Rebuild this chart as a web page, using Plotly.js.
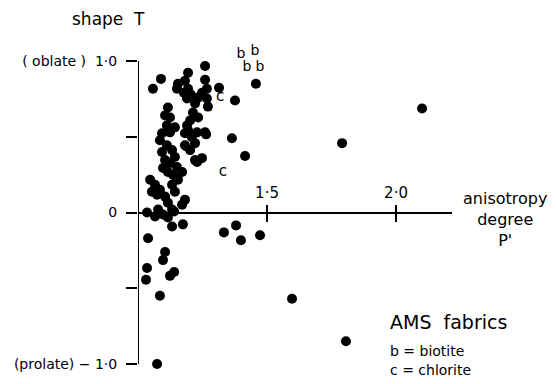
<!DOCTYPE html>
<html><head><meta charset="utf-8">
<script src="https://cdn.plot.ly/plotly-3.0.1.min.js"></script>
<style>html,body{margin:0;padding:0;background:#fff;}#chart{width:556px;height:384px;}</style>
</head><body><div id="chart"></div>
<script>
// AMS fabrics: anisotropy degree P' vs shape T
const sampleP = [1.260,1.194,1.089,1.058,1.155,1.182,1.151,1.194,1.178,1.205,
  1.190,1.260,1.267,1.248,1.233,1.267,1.271,1.314,1.376,1.221,
  1.213,1.202,1.190,1.233,1.116,1.105,1.124,1.112,1.143,1.194,
  1.229,1.260,1.093,1.124,1.182,1.209,1.221,1.264,1.364,1.093,
  1.112,1.132,1.105,1.124,1.143,1.116,1.136,1.151,1.171,1.229,
  1.248,1.221,1.415,1.047,1.066,1.085,1.054,1.074,1.105,1.143,
  1.116,1.182,1.171,1.035,1.078,1.132,1.066,1.116,1.097,1.140,
  1.132,1.174,1.039,1.105,1.097,1.035,1.031,1.124,1.140,1.085,
  1.074,1.333,1.380,1.399,1.473,1.597,1.791,2.101,1.457,1.806,
  1.085,1.097,1.155,1.132,1.202,1.182];
const sampleT = [0.967,0.922,0.882,0.817,0.850,0.869,0.817,0.817,0.791,0.778,
  0.752,0.876,0.817,0.791,0.758,0.752,0.699,0.824,0.739,0.719,
  0.660,0.608,0.575,0.627,0.693,0.641,0.627,0.575,0.562,0.542,
  0.529,0.529,0.523,0.529,0.523,0.497,0.458,0.516,0.490,0.399,
  0.444,0.412,0.346,0.327,0.366,0.268,0.248,0.301,0.268,0.333,
  0.359,0.346,0.373,0.216,0.183,0.150,0.137,0.118,0.105,0.137,
  0.065,0.085,0.052,0.000,0.020,0.020,-0.026,-0.033,-0.013,0.007,
  -0.092,-0.078,-0.170,-0.261,-0.314,-0.366,-0.444,-0.418,-0.392,-0.549,
  -1.0,-0.131,-0.085,-0.183,-0.150,-0.569,0.458,0.686,0.850,-0.850,
  0.477,0.294,0.216,0.183,0.412,0.444];
const biotiteP = [1.399,1.453,1.422,1.473];
const biotiteT = [1.045,1.063,0.957,0.957];
const chloriteP = [1.318,1.329,1.182];
const chloriteT = [0.758,0.268,0.431];
const xTickVals = [1.5, 2.0];
const xTickText = ['1·5', '2·0'];
const yTickVals = [-1, -0.5, 0, 0.5, 1];
const yTickText = ['(prolate) − 1·0', '', '0', '', '( oblate )  1·0'];

const FONT = 'DejaVu Sans, sans-serif';
const xr = [1.0, 2.217];
const yr = [-1.026, 1.099];
const zeroPos = (0 - yr[0]) / (yr[1] - yr[0]);
const H = 322, B = 368; // plot-area height and bottom pixel (for annotation placement)
const py = p => (B - p) / H;

const traces = [
  {x: sampleP, y: sampleT, type: 'scatter', mode: 'markers', cliponaxis: false,
   marker: {color: '#000', size: 10}, hoverinfo: 'skip', showlegend: false},
  {x: biotiteP, y: biotiteT, type: 'scatter', mode: 'text', text: biotiteP.map(() => 'b'),
   cliponaxis: false, textfont: {family: FONT, size: 14, color: '#000'}, showlegend: false},
  {x: chloriteP, y: chloriteT, type: 'scatter', mode: 'text', text: chloriteP.map(() => 'c'),
   cliponaxis: false, textfont: {family: FONT, size: 15, color: '#000'}, showlegend: false},
  {x: xTickVals, y: [0, 0], xaxis: 'x2', type: 'scatter', mode: 'markers',
   marker: {opacity: 0}, hoverinfo: 'skip', showlegend: false}
];
const layout = {
  width: 556, height: 384,
  margin: {l: 138, r: 104, t: 46, b: 16},
  paper_bgcolor: '#fff', plot_bgcolor: '#fff',
  font: {family: FONT, color: '#000'},
  showlegend: false,
  xaxis: {range: xr, anchor: 'free', position: zeroPos, side: 'top',
    showgrid: false, zeroline: false, showline: true, linecolor: '#000', linewidth: 2,
    tickvals: xTickVals, ticktext: xTickText, ticks: 'outside', ticklen: 7, tickwidth: 2,
    tickcolor: '#000', tickfont: {size: 15}, ticklabelstandoff: 1},
  xaxis2: {range: xr, overlaying: 'x', anchor: 'free', position: zeroPos, side: 'bottom',
    showgrid: false, zeroline: false, showline: false,
    tickvals: xTickVals, ticks: 'outside', ticklen: 8, tickwidth: 2, tickcolor: '#000',
    showticklabels: false},
  yaxis: {range: yr, showgrid: false, zeroline: false, showline: false,
    tickvals: yTickVals, ticktext: yTickText,
    ticks: 'outside', ticklen: 11, tickwidth: 2, tickcolor: '#000',
    tickfont: {size: 14}, ticklabelstandoff: 6},
  shapes: [
    {type: 'line', xref: 'x', yref: 'y', x0: xr[0], x1: xr[0], y0: -1, y1: 1,
     line: {color: '#000', width: 2}}
  ],
  annotations: [
    {text: 'shape  T', xref: 'paper', yref: 'paper', x: -0.095, y: py(19),
     xanchor: 'center', yanchor: 'middle', showarrow: false, font: {size: 17}},
    {text: "anisotropy<br>degree<br>P'", xref: 'paper', yref: 'paper', x: 1.169, y: py(219),
     xanchor: 'center', yanchor: 'middle', align: 'center', showarrow: false, font: {size: 16}},
    {text: 'AMS  fabrics', xref: 'paper', yref: 'paper', x: 0.796, y: py(322),
     xanchor: 'left', yanchor: 'middle', showarrow: false, font: {size: 19}},
    {text: 'b = biotite', xref: 'paper', yref: 'paper', x: 0.796, y: py(351),
     xanchor: 'left', yanchor: 'middle', showarrow: false, font: {size: 14}},
    {text: 'c = chlorite', xref: 'paper', yref: 'paper', x: 0.796, y: py(370),
     xanchor: 'left', yanchor: 'middle', showarrow: false, font: {size: 14}}
  ]
};
Plotly.newPlot('chart', traces, layout, {displayModeBar: false, staticPlot: true});
</script>
</body></html>
